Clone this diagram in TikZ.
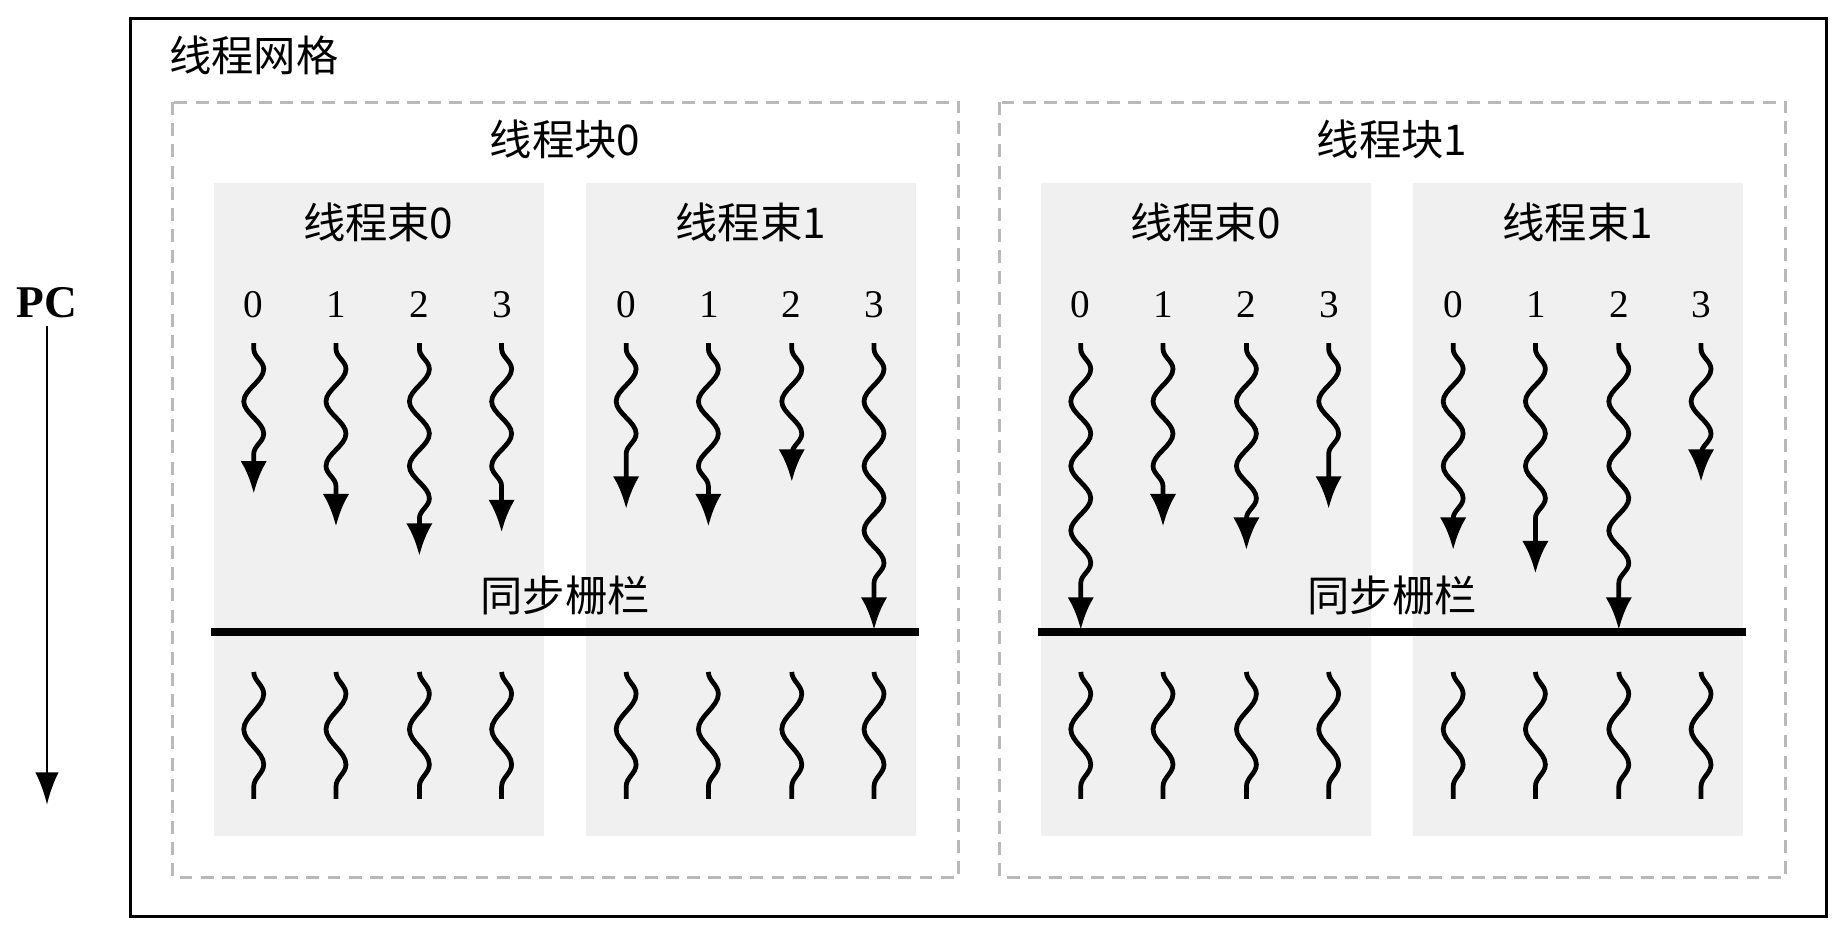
\documentclass[tikz,border=0pt]{standalone}
\usepackage{fontspec}
\setmainfont{Liberation Serif}
\newfontfamily\cjk{Noto Sans CJK SC}
\usetikzlibrary{positioning,decorations.pathmorphing,arrows.meta}
\definecolor{warpgray}{RGB}{240,240,240}
\definecolor{dashgray}{RGB}{185,185,185}
\tikzset{
  big/.style={font=\cjk\fontsize{20.5}{24}\selectfont},
  num/.style={font=\fontsize{19}{22}\selectfont},
  wave/.style={line width=2.3pt, decorate,
    decoration={snake, amplitude=1.7mm, segment length=11mm, pre length=1mm, post length=4mm}},
  wavearrow/.style={wave, -{Latex[length=5.5mm,width=4.5mm]}},
}
\begin{document}
\begin{tikzpicture}[x=0.02cm, y=-0.02cm]
    \useasboundingbox (0,0) rectangle (1568,805);
    % Grid
    \draw[line width=1.4pt] (111,16) rectangle (1555,780);
    \node[big] (grid) at (216,47) {线程网格};
    % Blocks
    \foreach \b/\bx in {0/0, 1/704} {
        \draw[dashgray, line width=1.3pt, dash pattern=on 2.2mm off 1.4mm] (147+\bx,87) rectangle (816+\bx,747);
        \node[big] (block\b) at (481+\bx,119) {线程块\b};
        \foreach \w/\wx in {0/0, 1/317} {
            \fill[warpgray] (182+\bx+\wx,156) rectangle (463+\bx+\wx,712);
            \node[big] (warp\b\w) at (322+\bx+\wx,189) {线程束\w};
            \foreach \t in {0,...,3}
                \node[num] (n\b\w\t) at (216+\bx+\wx+70.5*\t,259) {\t};
        }
        % Barrier
        \coordinate (barL\b) at (180+\bx,538);
        \coordinate (barR\b) at (782+\bx,538);
        \draw[line width=4pt] (barL\b) -- (barR\b);
        \node[big] (sync\b) at (481+\bx,507) {同步栅栏};
    }
    % Threads before barrier
    \foreach \x/\e [count=\i] in {216/420, 286/448, 357/473, 427/453, 533/433, 603/448, 674/410, 744/536,
                                  920/536, 990/448, 1061/468, 1131/433, 1237/468, 1307/488, 1378/536, 1448/410} {
        \coordinate (s\i) at (\x,292);
        \coordinate (e\i) at (\x,\e);
        \draw[wavearrow] (s\i) -- (e\i);
        % Threads after barrier
        \coordinate (p\i) at (\x,572);
        \coordinate (q\i) at (\x,680);
        \draw[wave, decoration={pre length=0mm, post length=0mm, segment length=12mm}] (p\i) -- (q\i);
    }
    % PC
    \node[font=\bfseries\fontsize{22}{26}\selectfont] (pc) at (40,258) {PC};
    \coordinate (pcend) at (40,685);
    \draw[line width=1.3pt, -{Latex[length=5.5mm,width=4mm]}] (pc.south) ++(0,0.4) -- (pcend);
\end{tikzpicture}
\end{document}
